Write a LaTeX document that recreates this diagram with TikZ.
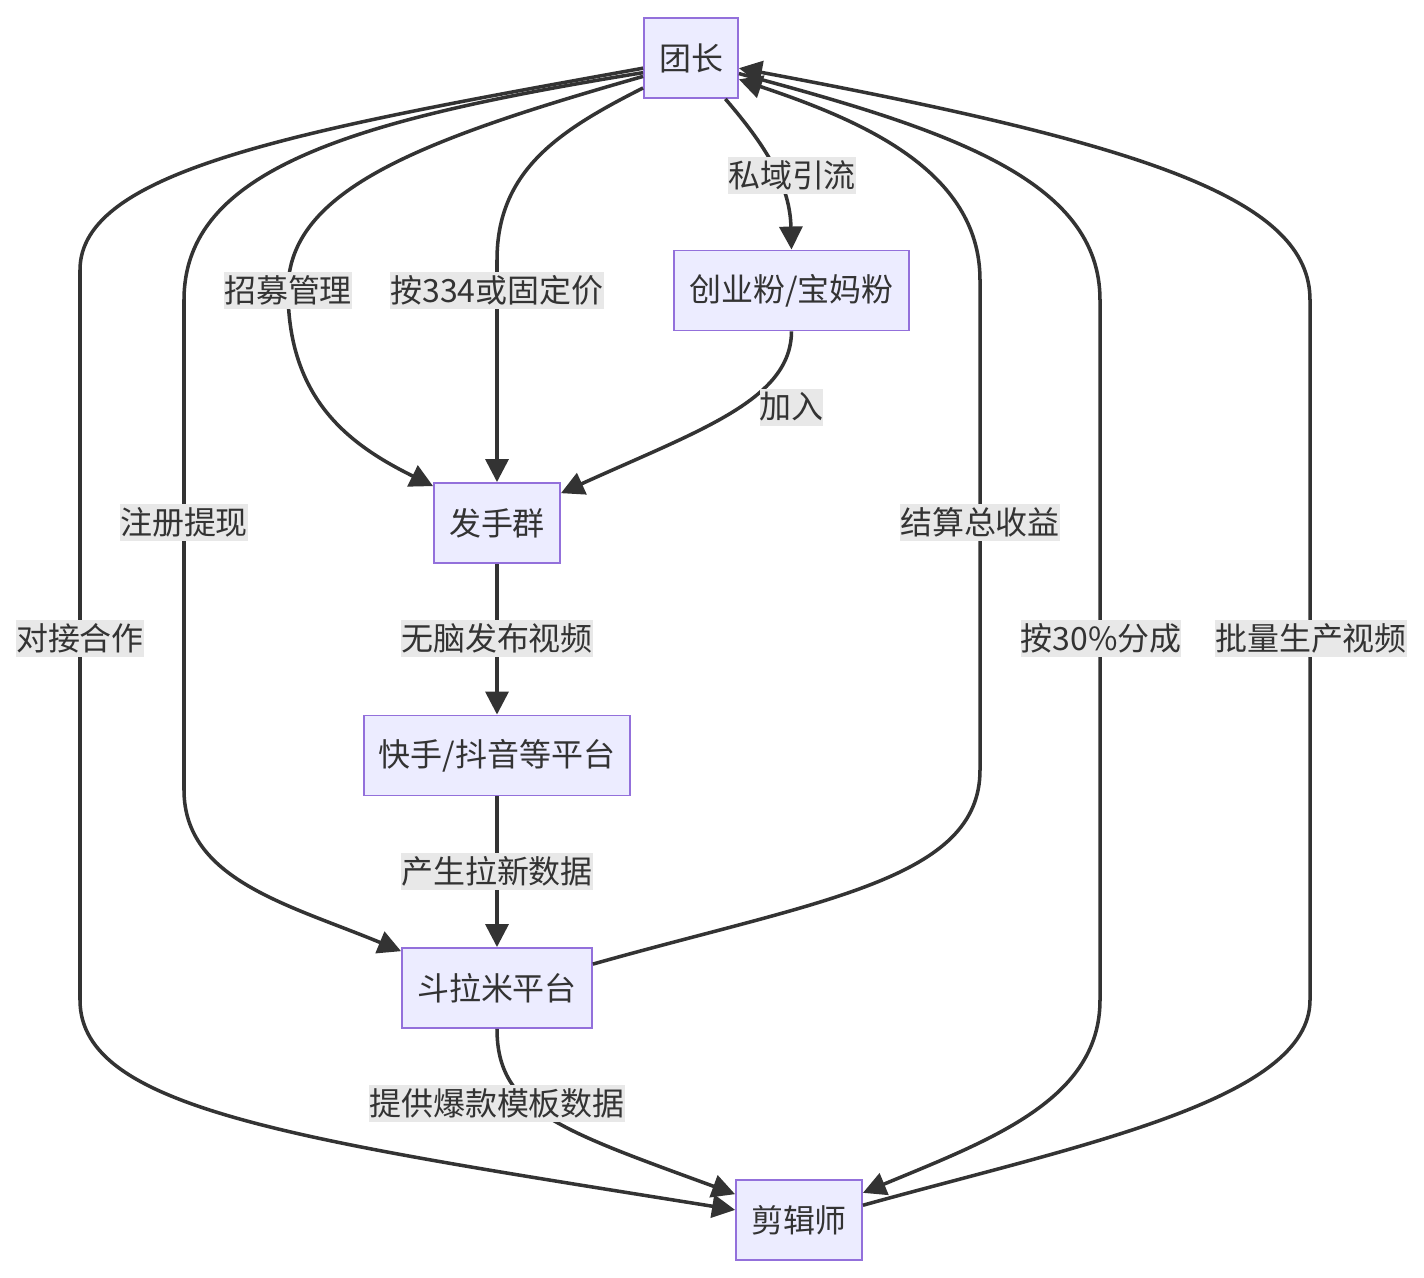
\documentclass[tikz,border=0pt]{standalone}
\usepackage{fontspec}
\setmainfont{Noto Sans CJK SC}
\usetikzlibrary{arrows.meta}
\definecolor{boxfill}{HTML}{ECECFF}
\definecolor{boxdraw}{HTML}{9370DB}
\definecolor{inkgray}{HTML}{333333}
\definecolor{labelfill}{HTML}{E8E8E8}
\begin{document}
\begin{tikzpicture}[x=0.02cm,y=-0.02cm,font=\fontsize{18.2pt}{22pt}\selectfont,
		flowbox/.style={draw=boxdraw,fill=boxfill,line width=1.1pt,text=inkgray,minimum height=1.6cm,inner xsep=0.3cm,inner ysep=0pt},
		flowlabel/.style={fill=labelfill,text=inkgray,inner sep=0pt,minimum height=0.74cm},
		flowline/.style={draw=inkgray,line width=2pt,-{Triangle[length=0.46cm,width=0.46cm]}}]
			\path[use as bounding box,fill=white] (0,0) rectangle (1424,1278);
			
			\node[flowbox] (tz) at (691,58) {团长};
			\node[flowbox] (fans) at (791.5,290.5) {创业粉/宝妈粉};
			\node[flowbox] (qun) at (497,523) {发手群};
			\node[flowbox] (ks) at (497,755.5) {快手/抖音等平台};
			\node[flowbox] (dlm) at (497,988) {斗拉米平台};
			\node[flowbox] (jjs) at (799,1220) {剪辑师};
			
			\draw[flowline] (tz.-50) .. controls (765,145) and (791,185) .. (791,230) -- (fans.north);
			\draw[flowline] (fans.south) .. controls (791,400) and (700,430) .. (qun.25);
			\draw[flowline] (tz.201) .. controls (420,140) and (288,190) .. (288,290) .. controls (288,400) and (350,445) .. (qun.150);
			\draw[flowline] (tz.212) .. controls (560,130) and (497,170) .. (497,260) -- (qun.north);
			\draw[flowline] (qun) -- (ks);
			\draw[flowline] (ks) -- (dlm);
			\draw[flowline] (tz.197) .. controls (350,120) and (184,170) .. (184,300) -- (184,790) .. controls (184,880) and (290,905) .. (dlm.159);
			\draw[flowline] (dlm.14) .. controls (820,900) and (980,880) .. (980,770) -- (980,280) .. controls (980,170) and (860,120) .. (tz.-24);
			\draw[flowline] (tz.192) .. controls (300,130) and (80,170) .. (80,270) -- (80,1000) .. controls (80,1110) and (300,1140) .. (jjs.171);
			\draw[flowline] (dlm.south) .. controls (497,1110) and (560,1130) .. (jjs.158);
			\draw[flowline] (tz.-18) .. controls (950,130) and (1100,180) .. (1100,300) -- (1100,1000) .. controls (1100,1100) and (990,1140) .. (jjs.23);
			\draw[flowline] (jjs.13) .. controls (1080,1145) and (1310,1100) .. (1310,1000) -- (1310,300) .. controls (1310,200) and (1150,145) .. (tz.-12);
			
			\node[flowlabel] (siyu) at (792,175) {私域引流};
			\node[flowlabel] (zhaomu) at (288,290) {招募管理};
			\node[flowlabel] (anjia) at (497,290) {按334或固定价};
			\node[flowlabel] (jiaru) at (791.5,407) {加入};
			\node[flowlabel] (zhuce) at (184,522) {注册提现};
			\node[flowlabel] (jiesuan) at (980,522) {结算总收益};
			\node[flowlabel] (duijie) at (80,638) {对接合作};
			\node[flowlabel] (fabu) at (497,638) {无脑发布视频};
			\node[flowlabel] (fencheng) at (1101,638) {按30\%分成};
			\node[flowlabel] (piliang) at (1311,638) {批量生产视频};
			\node[flowlabel] (laxin) at (497,871) {产生拉新数据};
			\node[flowlabel] (tigong) at (497,1103) {提供爆款模板数据};
		\end{tikzpicture}
\end{document}
